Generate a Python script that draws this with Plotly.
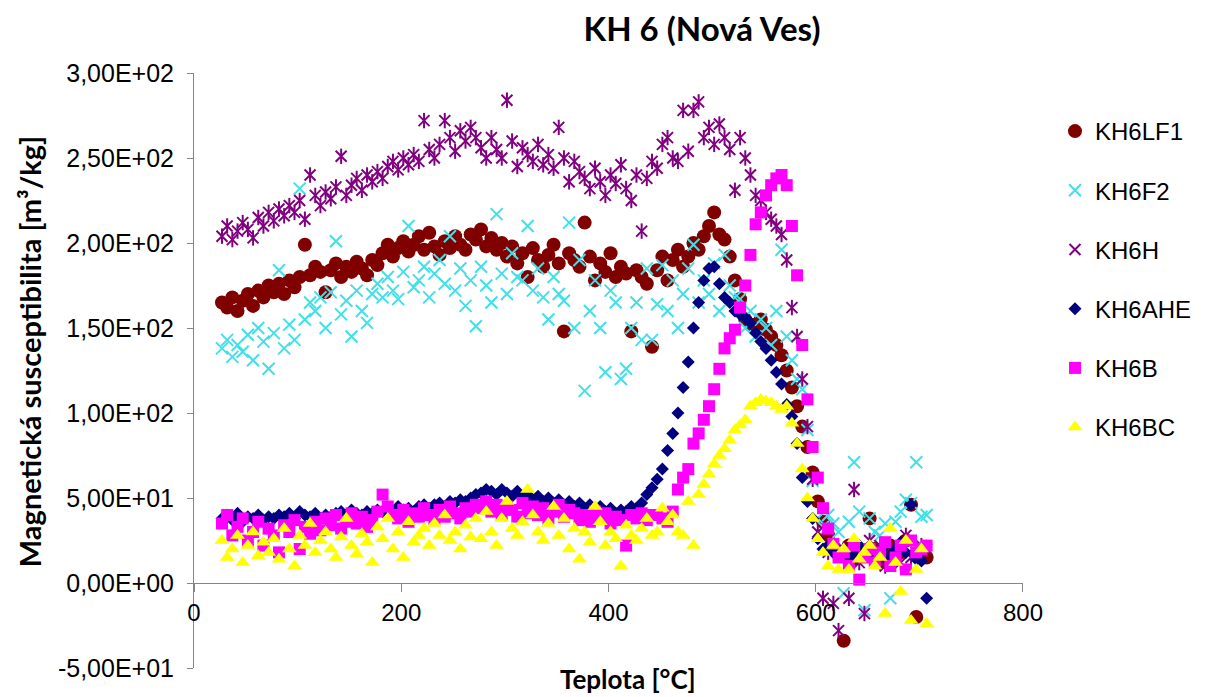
import plotly.graph_objects as go

# ---------------- data ----------------
teplota = [
    27, 32, 37, 42, 47, 52, 57, 62, 67, 72,
    77, 82, 87, 92, 97, 102, 107, 112, 117, 122,
    127, 132, 137, 142, 147, 152, 157, 162, 167, 172,
    177, 182, 187, 192, 197, 202, 207, 212, 217, 222,
    227, 232, 237, 242, 247, 252, 257, 262, 267, 272,
    277, 282, 287, 292, 297, 302, 307, 312, 317, 322,
    327, 332, 337, 342, 347, 352, 357, 362, 367, 372,
    377, 382, 387, 392, 397, 402, 407, 412, 417, 422,
    427, 432, 437, 442, 447, 452, 457, 462, 467, 472,
    477, 482, 487, 492, 497, 502, 507, 512, 517, 522,
    527, 532, 537, 542, 547, 552, 557, 562, 567, 572,
    577, 582, 587, 592, 597, 602, 607, 612, 617, 622,
    627, 632, 637, 642, 647, 652, 657, 662, 667, 672,
    677, 682, 687, 692, 697, 702, 707,
]

kh6lf1 = [
    165, 162, 168, 160, 166, 170, 163, 172, 168, 175,
    171, 176, 170, 178, 174, 180, 199, 181, 186, 183,
    171, 184, 188, 180, 186, 183, 189, 185, 181, 190,
    187, 194, 199, 192, 197, 201, 195, 199, 204, 196,
    206, 198, 193, 201, 197, 204, 199, 196, 205, 202,
    208, 198, 203, 196, 200, 192, 198, 188, 194, 180,
    197, 190, 186, 193, 199, 188, 148, 194, 190, 186,
    212, 192, 178, 188, 183, 194, 180, 186, 182, 148,
    184, 180, 176, 139, 184, 192, 178, 190, 196, 186,
    192, 200, 196, 204, 210, 218, 205, 202, 192, 178,
    167, 155, 152, 152, 155, 149, 145, 140, 134, 125,
    115, 104, 92, 80, 65, 48, 36, 28, 20, 18,
    -34, 22, 14, 18, 16, 38, 20, 12, 16, 22,
    15, 18, 25, 46, -20, 18, 15,
]

kh6f2 = [
    138, 143, 133, 140, 136, 146, 131, 150, 142, 126,
    147, 184, 138, 152, 143, 232, 155, 165, 160, 168,
    150, 171, 201, 158, 166, 145, 172, 160, 153, 170,
    176, 168, 180, 172, 167, 183, 210, 174, 178, 186,
    168, 182, 190, 176, 204, 172, 185, 163, 178, 151,
    186, 175, 165, 217, 182, 170, 194, 180, 178, 210,
    172, 185, 168, 155, 180, 170, 166, 212, 150, 190,
    113, 160, 178, 150, 124, 172, 165, 120, 126, 150,
    165, 143, 185, 143, 164, 187, 160, 178, 150, 170,
    185, 199, 165, 178, 170, 188, 160, 193, 175, 168,
    167, 150, 160, 145, 155, 150, 140, 160, 196, 145,
    131, 120, 114, 90, 60, 38, 33, 40, 35, 30,
    -6, 36, 71, 42, -16, 38, 30, 28, 35, -9,
    36, 42, 49, 47, 71, 39, 40,
]

kh6h = [
    204, 210, 202, 207, 212, 208, 203, 215, 210, 218,
    213, 220, 216, 222, 218, 225, 214, 240, 228, 222,
    230, 226, 233, 251, 228, 234, 238, 231, 240, 236,
    242, 238, 245, 248, 243, 250, 246, 252, 248, 272,
    255, 250, 258, 272, 262, 254, 266, 260, 268, 262,
    256, 250, 262, 255, 250, 284, 260, 245, 256, 252,
    248, 258, 246, 252, 244, 268, 250, 236, 248, 242,
    238, 232, 244, 236, 228, 240, 235, 246, 232, 225,
    240, 207, 238, 248, 244, 258, 262, 250, 248, 278,
    254, 278, 283, 262, 268, 258, 270, 262, 255, 231,
    262, 250, 240, 228, 225, 218, 214, 210, 205, 190,
    162, 145, 120, 92, 61, 30, -9, 18, -12, -28,
    20, -9, 55, 12, -18, 25, 18, 22, 10, 15,
    20, 12, 28, 15, 18, 22, 20,
]

kh6ahe = [
    38, 40, 37, 41, 36, 39, 38, 40, 37, 39,
    38, 40, 39, 41, 38, 42, 40, 39, 41, 38,
    40, 39, 41, 42, 40, 43, 41, 40, 42, 41,
    43, 42, 44, 41, 45, 43, 44, 42, 45, 46,
    44, 46, 47, 45, 48, 47, 49, 48, 50, 52,
    53, 55, 54, 52, 55, 53, 51, 54, 50, 52,
    49, 51, 48, 50, 47, 49, 46, 48, 45, 47,
    44, 46, 43, 45, 42, 44, 41, 43, 42, 45,
    44, 47, 52, 56, 61, 67, 78, 88, 100, 115,
    130, 150, 165, 178, 185, 186, 176, 168, 165, 160,
    158, 156, 153, 147, 142, 138, 131, 124, 117, 105,
    98, 82, 62, 48, 38, 26, 20, 22, 18, 16,
    20, 15, 18, 22, 16, 20, 14, 18, 22, 16,
    20, 24, 18, 46, 14, 13, -9,
]

kh6b = [
    35, 40, 28, 33, 38, 25, 30, 36, 22, 32,
    28, 18, 34, 30, 37, 20, 33, 29, 36, 31,
    38, 34, 40, 32, 36, 41, 35, 39, 33, 37,
    42, 52, 45, 40, 38, 43, 36, 41, 39, 44,
    40, 37, 43, 39, 45, 41, 38, 44, 42, 46,
    44, 48, 42, 46, 40, 45, 43, 39, 47, 41,
    45, 40, 44, 38, 42, 46, 39, 43, 41, 37,
    40, 36, 42, 38, 41, 35, 39, 37, 22, 40,
    38, 41, 37, 40, 40, 38, 36, 42, 55, 62,
    67, 82, 88, 96, 104, 114, 126, 138, 144, 149,
    162, 175, 193, 211, 218, 228, 234, 238, 240, 234,
    210, 181, 140, 108, 80, 62, 44, 32, 23, 15,
    18, 10, 22, 2, 15, 20, 12, 18, 24, 10,
    15, 22, 8, 25, 18, 20, 22,
]

kh6bc = [
    25, 15, 20, 28, 12, 22, 30, 16, 24, 18,
    26, 14, 32, 20, 10, 28, 22, 35, 18, 25,
    30, 20, 15, 27, 38, 22, 17, 29, 24, 12,
    33, 26, 38, 20, 30, 15, 36, 24, 28, 32,
    22, 35, 28, 40, 25, 30, 20, 34, 27, 38,
    26, 42, 30, 22, 38, 48, 32, 28, 36, 55,
    40, 30, 25, 35, 45, 28, 38, 20, 32, 14,
    30, 24, 45, 36, 22, 30, 26, 10, 34, 28,
    25, 32, 38, 28, 30, 44, 36, 40, 30, 28,
    48, 22, 52, 58, 64, 70, 75, 79, 84, 90,
    93, 96, 104, 106, 108, 107, 106, 104, 102, 104,
    94, 82, 67, 50, 38, 26, 18, 10, 22, 8,
    20, 8, 26, 14, 18, 22, 10, 15, -18, 32,
    12, -5, 25, -22, 8, 20, -24,
]

y_tick_values = [-50, 0, 50, 100, 150, 200, 250, 300]
y_tick_labels = ["-5,00E+01", "0,00E+00", "5,00E+01", "1,00E+02",
                 "1,50E+02", "2,00E+02", "2,50E+02", "3,00E+02"]
x_tick_values = [0, 200, 400, 600, 800]

# ---------------- figure ----------------
W, H = 1210, 697
L, R, T, B = 194, 146, 73, 29
PW, PH = W - L - R, H - T - B
AX = "#868686"
TXT = "#000000"

fig = go.Figure()

fig.add_trace(go.Scatter(
    x=teplota, y=kh6lf1, mode="markers", name="KH6LF1", legendgroup="g1",
    marker=dict(symbol="circle", size=14, color="#800000",
                line=dict(width=0))))
fig.add_trace(go.Scatter(
    x=teplota, y=kh6f2, mode="markers", name="KH6F2", legendgroup="g2",
    marker=dict(symbol="x-thin-open", size=12,
                line=dict(width=2, color="#40E0E8"), color="#40E0E8")))
fig.add_trace(go.Scatter(
    x=teplota, y=kh6h, mode="markers", name="KH6H", legendgroup="g3",
    marker=dict(symbol="x-thin-open", size=11,
                line=dict(width=2, color="#800080"), color="#800080")))
fig.add_trace(go.Scatter(
    x=teplota, y=kh6h, mode="markers", name="KH6H", legendgroup="g3",
    showlegend=False, hoverinfo="skip",
    marker=dict(symbol="line-ns-open", size=11,
                line=dict(width=2, color="#800080"), color="#800080")))
fig.add_trace(go.Scatter(
    x=teplota, y=kh6ahe, mode="markers", name="KH6AHE", legendgroup="g4",
    marker=dict(symbol="diamond", size=10, color="#000080",
                line=dict(width=0))))
fig.add_trace(go.Scatter(
    x=teplota, y=kh6b, mode="markers", name="KH6B", legendgroup="g5",
    marker=dict(symbol="square", size=12, color="#FF00FF",
                line=dict(width=0))))
fig.add_trace(go.Scatter(
    x=teplota, y=kh6bc, mode="markers", name="KH6BC", legendgroup="g6",
    marker=dict(symbol="triangle-up", size=13, color="#FFFF00",
                line=dict(width=0))))

zero_pos = (0 - (-50)) / (300 - (-50))

fig.update_layout(
    width=W, height=H, autosize=False,
    margin=dict(l=L, r=R, t=T, b=B, pad=0),
    paper_bgcolor="white", plot_bgcolor="white",
    font=dict(family="Liberation Sans, Arial, sans-serif", size=24, color=TXT),
    title=dict(text="<b>KH 6 (Nová Ves)</b>", xref="container", yref="container",
               x=702 / W, y=1 - 29 / H, xanchor="center", yanchor="middle",
               font=dict(family="Lato, sans-serif", size=33, color=TXT)),
    showlegend=True,
    legend=dict(xref="container", yref="container",
                x=1055 / W, y=1 - 109 / H, xanchor="left", yanchor="top",
                font=dict(family="Liberation Sans, Arial, sans-serif", size=24, color=TXT),
                tracegroupgap=25, itemwidth=30, bgcolor="rgba(0,0,0,0)",
                borderwidth=0),
    xaxis=dict(range=[0, 800], tickvals=x_tick_values, showgrid=False,
               zeroline=False, showline=True, linecolor=AX, linewidth=1,
               ticks="outside", ticklen=8, tickcolor=AX, tickwidth=1,
               anchor="free", position=zero_pos,
               tickfont=dict(size=24, color=TXT)),
    yaxis=dict(range=[-50, 300], tickvals=y_tick_values, ticktext=y_tick_labels,
               showgrid=False, zeroline=False, showline=True, linecolor=AX,
               linewidth=1, ticks="outside", ticklen=6, tickcolor=AX, tickwidth=1,
               ticklabelstandoff=8,
               tickfont=dict(size=25, color=TXT)),
    annotations=[
        dict(text="<b>Teplota [°C]</b>", xref="paper", yref="paper",
             x=0.5 + 20 / PW, y=(668 - 679) / PH, xanchor="center", yanchor="middle",
             showarrow=False, font=dict(family="Lato, sans-serif", size=26, color=TXT)),
        dict(text="<b>Magnetická susceptibilita [m³/kg]</b>", xref="paper", yref="paper",
             x=(21 - L) / PW, y=(668 - 352) / PH,
             xanchor="center", yanchor="middle", textangle=-90,
             showarrow=False, font=dict(family="Lato, sans-serif", size=29, color=TXT)),
    ],
)

fig.write_html("out.html")
